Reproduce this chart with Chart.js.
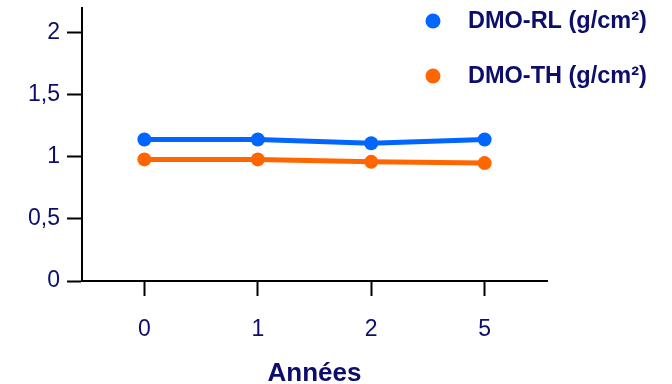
<!DOCTYPE html>
<html>
<head>
<meta charset="utf-8">
<script src="https://cdn.jsdelivr.net/npm/chart.js@4/dist/chart.umd.min.js"></script>
<style>
  html, body { margin: 0; padding: 0; background: #fff; }
  #wrap { width: 672px; height: 384px; }
</style>
</head>
<body>
<div id="wrap"><canvas id="c" width="672" height="384"></canvas></div>
<script>
// Years of follow-up and bone mineral density series
const categories = ['0', '1', '2', '5'];
const dmoRL = [1.14, 1.14, 1.11, 1.14];
const dmoTH = [0.98, 0.98, 0.96, 0.95];
const seriesNames = ['DMO-RL (g/cm²)', 'DMO-TH (g/cm²)'];
const yTicks = [0, 0.5, 1, 1.5, 2];

const navy = '#0d0d6b';
const blue = '#0066ff';
const orange = '#ff6600';
const FONT = '"Liberation Sans", Arial, sans-serif';

// Legend drawn as a vertical list in the upper right corner
const sideLegend = {
  id: 'sideLegend',
  afterDraw(chart) {
    const ctx = chart.ctx;
    ctx.save();
    chart.data.datasets.forEach((ds, i) => {
      const y = 21 + i * 55;
      ctx.fillStyle = ds.borderColor;
      ctx.beginPath();
      ctx.arc(433, y, 7.5, 0, Math.PI * 2);
      ctx.fill();
      ctx.fillStyle = navy;
      ctx.font = 'bold 23.5px ' + FONT;
      ctx.textBaseline = 'middle';
      ctx.textAlign = 'left';
      ctx.fillText(ds.label, 468, y + 1);
    });
    ctx.restore();
  }
};

new Chart(document.getElementById('c'), {
  type: 'line',
  data: {
    datasets: [
      {
        label: seriesNames[0],
        data: dmoRL.map((v, i) => ({ x: i, y: v })),
        borderColor: blue,
        backgroundColor: blue,
        borderWidth: 5,
        pointRadius: 7,
        pointHoverRadius: 7,
        pointBorderWidth: 0
      },
      {
        label: seriesNames[1],
        data: dmoTH.map((v, i) => ({ x: i, y: v })),
        borderColor: orange,
        backgroundColor: orange,
        borderWidth: 5,
        pointRadius: 7,
        pointHoverRadius: 7,
        pointBorderWidth: 0
      }
    ]
  },
  options: {
    responsive: false,
    animation: false,
    devicePixelRatio: 1,
    layout: { padding: { top: 8, right: 125, left: 0, bottom: 0 } },
    plugins: { legend: { display: false }, tooltip: { enabled: false } },
    scales: {
      x: {
        type: 'linear',
        min: -0.55,
        max: 3.55,
        afterBuildTicks: (s) => { s.ticks = categories.map((_, i) => ({ value: i })); },
        afterFit: (s) => { s.height = 103; s.paddingLeft = 0; s.paddingRight = 0; },
        ticks: {
          color: navy,
          font: { family: FONT, size: 23 },
          padding: 20,
          callback: (v) => categories[v]
        },
        grid: { drawOnChartArea: false, drawTicks: true, tickLength: 15, tickWidth: 2, color: '#000' },
        border: { display: true, color: '#000', width: 2 },
        title: {
          display: true,
          text: 'Années',
          color: navy,
          font: { family: FONT, size: 26, weight: 'bold', lineHeight: 0.75 },
          padding: { top: 0, bottom: 0 }
        }
      },
      y: {
        min: 0,
        max: 2.2,
        afterBuildTicks: (s) => { s.ticks = yTicks.map(v => ({ value: v })); },
        afterFit: (s) => { s.width = 82; s.paddingTop = 0; s.paddingBottom = 0; },
        ticks: {
          color: navy,
          font: { family: FONT, size: 23 },
          padding: 7,
          callback: (v) => String(v).replace('.', ',')
        },
        grid: { drawOnChartArea: false, drawTicks: true, tickLength: 15, tickWidth: 2, color: '#000' },
        border: { display: true, color: '#000', width: 2 }
      }
    }
  },
  plugins: [sideLegend]
});
</script>
</body>
</html>
